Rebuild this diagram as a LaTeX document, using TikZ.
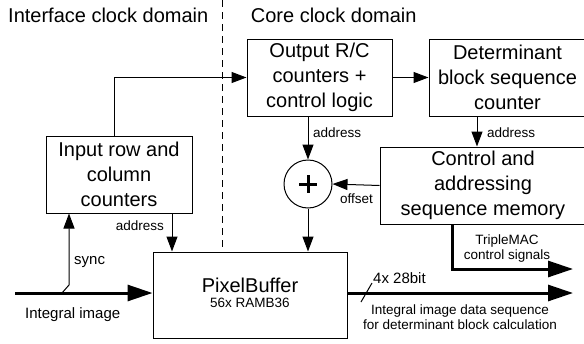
\documentclass[tikz,border=0pt]{standalone}
\usepackage{fontspec}
\setmainfont{Liberation Sans}
\usetikzlibrary{arrows.meta,calc}
\begin{document}
\begin{tikzpicture}[x=1pt,y=-1pt,
  box/.style={draw,line width=1pt,inner sep=0pt,align=center,font=\fontsize{20}{25}\selectfont},
  lbl/.style={inner sep=0pt,font=\fontsize{13.5}{15}\selectfont},
  lblb/.style={inner sep=0pt,font=\fontsize{15}{17}\selectfont},
  arr/.style={line width=1pt,-{Triangle[length=15pt,width=11pt]}},
  thk/.style={line width=3pt,-{Triangle[length=25pt,width=16pt]}},
  title/.style={inner sep=0pt,font=\fontsize{20}{25}\selectfont}]
\useasboundingbox (0,0) rectangle (584,343);
% titles and domain separator
\node[title,anchor=base west] (t1) at (8,22.7) {Interface clock domain};
\node[title,anchor=base west] (t2) at (250.7,22.7) {Core clock domain};
\draw[line width=1pt,dash pattern=on 7pt off 5pt] (222,0) -- (222,248);
% boxes
\node[box,minimum width=146pt,minimum height=77pt] (inp) at (119,174.5) {Input row and\\column\\counters};
\node[box,minimum width=145pt,minimum height=77pt] (out) at (319.5,77.5) {Output R/C\\counters +\\control logic};
\node[box,minimum width=157pt,minimum height=77pt] (det) at (507.5,77.5) {Determinant\\block sequence\\counter};
\node[box,minimum width=206pt,minimum height=77pt] (ctrl) at (483,185.5) {Control and\\addressing\\sequence memory};
\node[box,minimum width=194pt,minimum height=86pt] (pb) at (250,295) {};
\node[title,anchor=base] (pbt) at (250,292.7) {PixelBuffer};
\node[lbl,anchor=base] (pbs) at (250,307.5) {56x RAMB36};
% adder
\node[draw,circle,minimum size=48pt,inner sep=0pt,line width=1pt] (plus) at (308,184) {};
\draw[line width=3pt] ($(plus)+(-9,0)$) -- ($(plus)+(9,0)$);
\draw[line width=3pt] ($(plus)+(0,-9)$) -- ($(plus)+(0,9)$);
% connectors
\draw[arr] ([xshift=-5pt]inp.north) |- (out.west);
\draw[arr] (out.east) -- (det.west);
\draw[arr] (out.south -| plus.north) -- (plus.north);
\draw[arr] ([xshift=-30.5pt]det.south) -- ([xshift=-30.5pt]det.south |- ctrl.north);
\draw[arr] (ctrl.west) -- (plus.east);
\draw[arr] (plus.south) -- (plus.south |- pb.north);
\draw[arr] ([xshift=53pt]inp.south) -- ([xshift=53pt]inp.south |- pb.north);
% integral image input
\coordinate (iin) at (15,293);
\draw[thk] (iin) -- (iin -| pb.west);
\coordinate (sy) at (62,293);
\coordinate (sk) at (69,285);
\draw[arr] (sy) -- (sk) -- (sk |- inp.south);
% outputs
\coordinate (oend) at (573,293);
\draw[thk] (iin -| pb.east) -- (oend);
\draw[line width=1pt] (361,302) -- (372,283);
\coordinate (tend) at (573,269);
\draw[thk] ([xshift=-31pt]ctrl.south) |- (tend);
% labels
\node[lbl,anchor=base west] (l1) at (313,137.5) {address};
\node[lbl,anchor=base west] (l2) at (487,137.5) {address};
\node[lbl,anchor=base east] (l3) at (164,230) {address};
\node[lblb,anchor=base west] (l4) at (74,264) {sync};
\node[lbl,anchor=base west] (l5) at (340,203.3) {offset};
\node[lblb,anchor=base west] (l6) at (25,318) {Integral image};
\node[lblb,anchor=base west] (l7) at (373,283.5) {4x 28bit};
\node[lbl,align=center,anchor=base] (l8) at (507,259.5) {TripleMAC\\control signals};
\node[lbl,align=center,anchor=base] (l9) at (460,329.7) {Integral image data sequence\\for determinant block calculation};
\end{tikzpicture}
\end{document}
